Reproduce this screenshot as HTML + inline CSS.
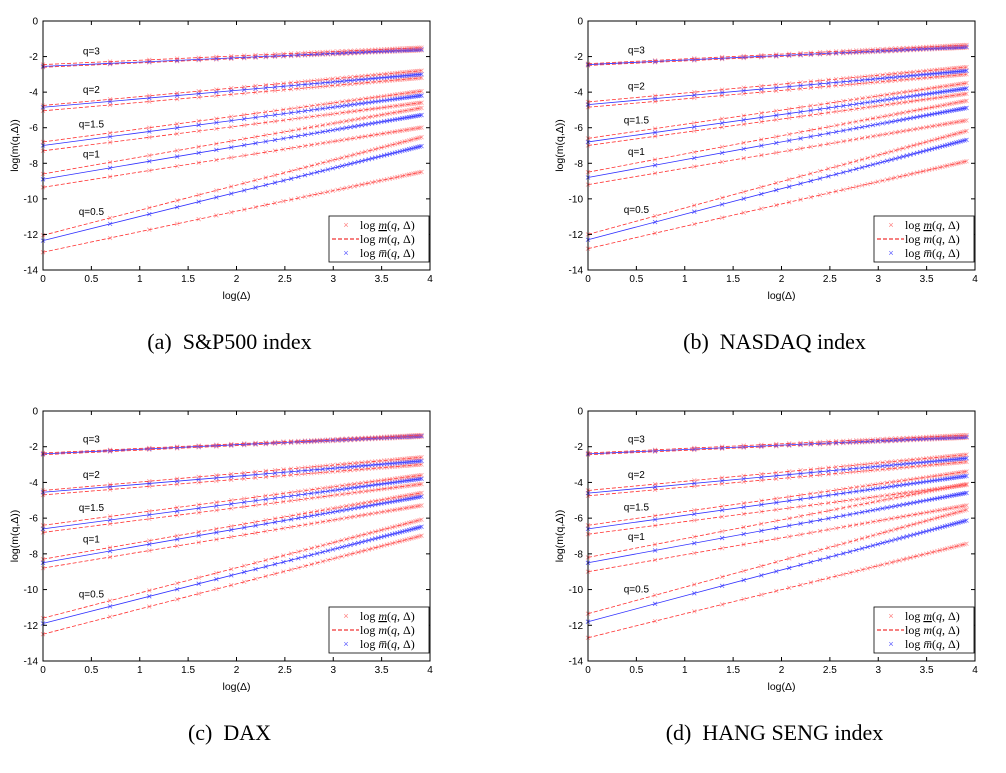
<!DOCTYPE html>
<html><head><meta charset="utf-8"><style>
body{margin:0;background:#fff;width:1006px;height:768px;overflow:hidden}
svg text{font-family:"Liberation Sans",sans-serif}
</style></head><body>
<svg id="s" width="1006" height="768" xmlns="http://www.w3.org/2000/svg"></svg>
<script>
// values: [lowerStart, lowerEnd, midStart, midEnd, upperStart, upperEnd] at log(Δ)=0 and 3.9
const qLabels = ["q=3","q=2","q=1.5","q=1","q=0.5"];
const seriesA = [[-2.6,-1.65,-2.55,-1.6,-2.45,-1.5],[-5.05,-3.2,-4.85,-3.0,-4.75,-2.8],[-7.3,-4.6,-7.0,-4.2,-6.8,-3.95],[-9.35,-6.0,-8.9,-5.3,-8.6,-4.9],[-13.0,-8.5,-12.35,-7.05,-12.05,-6.55]];
const seriesB = [[-2.5,-1.5,-2.45,-1.45,-2.4,-1.35],[-4.85,-3.0,-4.7,-2.8,-4.55,-2.6],[-7.0,-4.1,-6.8,-3.8,-6.6,-3.5],[-9.2,-5.6,-8.8,-4.9,-8.5,-4.5],[-12.8,-7.9,-12.3,-6.7,-12.0,-6.2]];
const seriesC = [[-2.45,-1.45,-2.4,-1.4,-2.35,-1.35],[-4.7,-3.0,-4.55,-2.8,-4.45,-2.6],[-6.8,-4.1,-6.6,-3.8,-6.4,-3.6],[-8.8,-5.3,-8.5,-4.8,-8.3,-4.6],[-12.5,-7.0,-11.9,-6.5,-11.6,-6.1]];
const seriesD = [[-2.45,-1.5,-2.4,-1.45,-2.35,-1.35],[-4.75,-2.85,-4.6,-2.65,-4.45,-2.45],[-6.9,-4.15,-6.6,-3.65,-6.4,-3.4],[-9.0,-5.3,-8.5,-4.6,-8.2,-4.1],[-12.7,-7.45,-11.8,-6.15,-11.35,-5.55]];
const xTicks = [0,0.5,1,1.5,2,2.5,3,3.5,4];
const yTicks = [0,-2,-4,-6,-8,-10,-12,-14];
const captions = ["(a)\u00a0 S&P500 index","(b)\u00a0 NASDAQ index","(c)\u00a0 DAX","(d)\u00a0 HANG SENG index"];
const NS="http://www.w3.org/2000/svg";
const svg=document.getElementById('s');
function el(t,a,p){const e=document.createElementNS(NS,t);for(const k in a)e.setAttribute(k,a[k]);(p||svg).appendChild(e);return e;}
const panels=[{x0:43,x1:430,y0:21,y1:270,d:seriesA,name:'sp500'},{x0:588,x1:975,y0:21,y1:270,d:seriesB,name:'nasdaq'},{x0:43,x1:430,y0:411,y1:661,d:seriesC,name:'dax'},{x0:588,x1:975,y0:411,y1:661,d:seriesD,name:'hangseng'}];
panels.forEach((P,pi)=>{
  const g=el('g',{});
  
  
  const X=v=>P.x0+(v-0)/(4-0)*(P.x1-P.x0);
  const Y=v=>P.y0+(0-v)/(14)*(P.y1-P.y0);
  P.d.forEach((s,qi)=>{
    for(let k=0;k<3;k++){
      const a=s[2*k],b=s[2*k+1];
      const f=x=>a+(b-a)*x/3.9;
      const red=k!==1;
      const col=red?'#ff3030':'#3030ff';
      const ln=el('line',{x1:X(0),y1:Y(f(0)),x2:X(Math.log(50)),y2:Y(f(Math.log(50))),stroke:col,'stroke-width':0.8,'stroke-dasharray':red?'4,2':'none'},g);
      
      
      let p='';
      for(let n=1;n<=50;n++){const x=X(Math.log(n)),y=Y(f(Math.log(n)));p+=`M${x-2},${y-2}L${x+2},${y+2}M${x-2},${y+2}L${x+2},${y-2}`;}
      const m=el('path',{d:p,stroke:red?'#ff6060':'#4040ff','stroke-width':0.8,opacity:red?0.6:0.8,fill:'none'},g);
      
      
    }
    const up=s[4]+(s[5]-s[4])*0.5/3.9;
    const t=el('text',{x:X(0.5),y:Y(up+0.45),'font-size':10,'text-anchor':'middle'},g);t.textContent=qLabels[qi];
    
    
  });
  const fr=el('rect',{x:P.x0,y:P.y0,width:P.x1-P.x0,height:P.y1-P.y0,fill:'none',stroke:'#000','stroke-width':1},g);
  
  
  xTicks.forEach(v=>{const x=X(v);el('line',{x1:x,y1:P.y1,x2:x,y2:P.y1-4,stroke:'#000'},g);el('line',{x1:x,y1:P.y0,x2:x,y2:P.y0+4,stroke:'#000'},g);
    const t=el('text',{x:x,y:P.y1+12,'font-size':10,'text-anchor':'middle'},g);t.textContent=String(v);
    });
  yTicks.forEach(v=>{const y=Y(v);el('line',{x1:P.x0,y1:y,x2:P.x0+4,y2:y,stroke:'#000'},g);el('line',{x1:P.x1,y1:y,x2:P.x1-4,y2:y,stroke:'#000'},g);
    const t=el('text',{x:P.x0-5,y:y+3.5,'font-size':10,'text-anchor':'end'},g);t.textContent=String(v);
    });
  const xl=el('text',{x:(P.x0+P.x1)/2,y:P.y1+29,'font-size':10.5,'text-anchor':'middle'},g);xl.textContent='log(Δ)';
  
  const yl=el('text',{x:0,y:0,'font-size':10.5,'text-anchor':'middle',transform:`translate(${P.x0-25},${(P.y0+P.y1)/2}) rotate(-90)`},g);yl.textContent='log(m(q,Δ))';
  
  const lg=el('g',{},g);
  
  const lx=P.x1-101,ly=P.y1-54;
  el('rect',{x:lx,y:ly,width:100,height:46,fill:'#fff',stroke:'#000','stroke-width':0.8},lg);
  const rows=[['#ff8080'],['#e00'],['#6060ff']];
  rows.forEach((r,i)=>{const y=ly+9+i*14;
    if(i===1)el('line',{x1:lx+3,y1:y,x2:lx+30,y2:y,stroke:'#e00','stroke-dasharray':'4,2'},lg);
    else{const t=el('text',{x:lx+17,y:y+3,'font-size':9,fill:r[0],'text-anchor':'middle'},lg);t.textContent='×';}
    const t=el('text',{x:lx+31,y:y+4,'font-size':12},lg);
    t.setAttribute('style','font-family:"Liberation Serif",serif');
    t.innerHTML=`log <tspan font-style="italic"${i===0?' text-decoration="underline"':''}>${i===2?'m̅':'m'}</tspan>(<tspan font-style="italic">q</tspan>, Δ)`;
    
  });
  const c=el('text',{x:(P.x0+P.x1)/2-7,y:P.y1+79,'text-anchor':'middle'},g);c.textContent=captions[pi];
  c.setAttribute('style','font-family:"Liberation Serif",serif;font-size:22px');
  
});
</script>
</body></html>
